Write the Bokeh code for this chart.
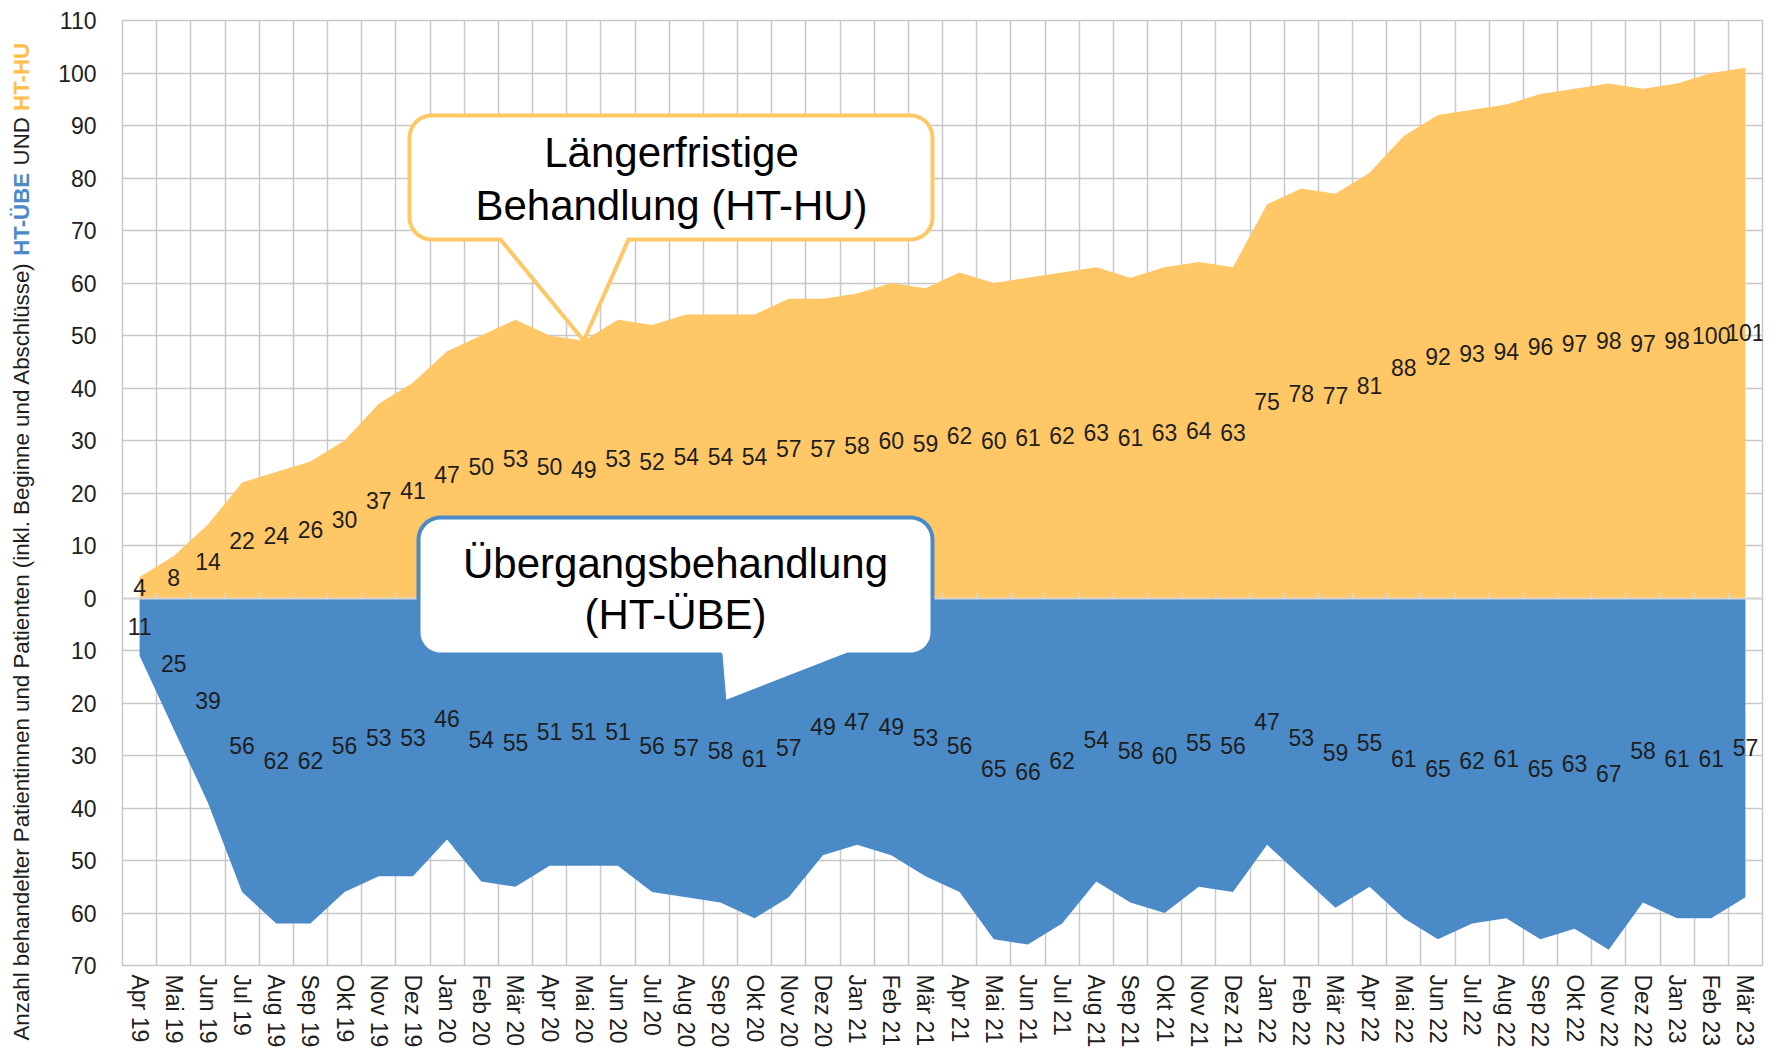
import numpy as np
from bokeh.plotting import figure
from bokeh.layouts import row
from bokeh.models import FixedTicker, Label, Range1d
from bokeh.core.properties import value
from bokeh.embed import file_html
from bokeh.resources import INLINE

# ---------------- data ----------------
months = ["Apr 19", "Mai 19", "Jun 19", "Jul 19", "Aug 19", "Sep 19", "Okt 19", "Nov 19", "Dez 19",
          "Jan 20", "Feb 20", "Mär 20", "Apr 20", "Mai 20", "Jun 20", "Jul 20", "Aug 20", "Sep 20",
          "Okt 20", "Nov 20", "Dez 20",
          "Jan 21", "Feb 21", "Mär 21", "Apr 21", "Mai 21", "Jun 21", "Jul 21", "Aug 21", "Sep 21",
          "Okt 21", "Nov 21", "Dez 21",
          "Jan 22", "Feb 22", "Mär 22", "Apr 22", "Mai 22", "Jun 22", "Jul 22", "Aug 22", "Sep 22",
          "Okt 22", "Nov 22", "Dez 22",
          "Jan 23", "Feb 23", "Mär 23"]

ht_hu = [4, 8, 14, 22, 24, 26, 30, 37, 41,
         47, 50, 53, 50, 49, 53, 52, 54, 54, 54, 57, 57,
         58, 60, 59, 62, 60, 61, 62, 63, 61, 63, 64, 63,
         75, 78, 77, 81, 88, 92, 93, 94, 96, 97, 98, 97,
         98, 100, 101]

ht_ube = [11, 25, 39, 56, 62, 62, 56, 53, 53,
          46, 54, 55, 51, 51, 51, 56, 57, 58, 61, 57, 49,
          47, 49, 53, 56, 65, 66, 62, 54, 58, 60, 55, 56,
          47, 53, 59, 55, 61, 65, 62, 61, 65, 63, 67, 58,
          61, 61, 57]

y_ticks = list(range(-70, 111, 10))

callout_hu = ["Längerfristige", "Behandlung (HT-HU)"]
callout_ube = ["Übergangsbehandlung", "(HT-ÜBE)"]
ylabel_parts = ["Anzahl behandelter Patientinnen und Patienten (inkl. Beginne und Abschlüsse)",
                "HT-ÜBE", "UND", "HT-HU"]

# ---------------- style ----------------
ORANGE = "#FFC766"
BLUE = "#4A8AC7"
GRID = "#C8C8C8"
TXT = "#1E1E1E"
FONT = "Liberation Sans"

H = 1056
TW = 40                      # width of the y-title strip
W = 1740                     # main figure width
ML, MR, MT, MB = 82, 18, 20, 91
FL, FT = TW + ML, MT         # frame left/top on the page
FW, FH = W - ML - MR, H - MT - MB

n = len(months)
x = np.arange(n)
YMIN, YMAX = -70, 110
cw = FW / n
ch = FH / (YMAX - YMIN)


def px2x(px):
    return (px - FL) / cw - 0.5


def px2y(py):
    return YMAX - (py - FT) / ch


p = figure(width=W, height=H, x_range=Range1d(-0.5, n - 0.5), y_range=Range1d(YMIN, YMAX),
           output_backend="svg", toolbar_location=None,
           min_border_left=ML, min_border_right=MR, min_border_top=MT, min_border_bottom=MB)
p.frame_align = False
p.background_fill_color = "white"
p.border_fill_color = "white"
p.outline_line_color = GRID
p.outline_line_width = 1.5

# grid
p.xgrid.ticker = FixedTicker(ticks=list(x[:-1] + 0.5))
p.xgrid.grid_line_color = GRID
p.xgrid.grid_line_width = 1.5
p.ygrid.ticker = FixedTicker(ticks=y_ticks)
p.ygrid.grid_line_color = GRID
p.ygrid.grid_line_width = 1.5

# axes
p.xaxis.ticker = FixedTicker(ticks=list(x))
p.xaxis.major_label_overrides = {int(i): m for i, m in zip(x, months)}
p.xaxis.major_label_orientation = "vertical"
p.xaxis.major_label_text_font = FONT
p.xaxis.major_label_text_font_size = "23px"
p.xaxis.major_label_text_color = TXT
p.xaxis.major_label_standoff = 9
p.xaxis.major_tick_line_color = None
p.xaxis.minor_tick_line_color = None
p.xaxis.major_tick_out = 0
p.xaxis.major_tick_in = 0
p.xaxis.axis_line_color = GRID

p.yaxis.ticker = FixedTicker(ticks=y_ticks)
p.yaxis.major_label_overrides = {t: str(abs(t)) for t in y_ticks}
p.yaxis.major_label_text_font = FONT
p.yaxis.major_label_text_font_size = "23px"
p.yaxis.major_label_text_color = TXT
p.yaxis.major_label_standoff = 20
p.yaxis.major_tick_line_color = None
p.yaxis.minor_tick_line_color = None
p.yaxis.axis_line_color = GRID

# areas
hu = np.array(ht_hu, dtype=float)
ube = np.array(ht_ube, dtype=float)
p.varea(x=x, y1=0, y2=hu, fill_color=ORANGE)
p.varea(x=x, y1=-ube, y2=0, fill_color=BLUE)

# zero line with small ticks
p.hspan(y=[0], line_color="#D6D6D6", line_width=2)
bounds = x[:-1] + 0.5
p.segment(x0=bounds, y0=0, x1=bounds, y1=5 / ch, line_color="#D6D6D6", line_width=1.5)

# value labels
p.text(x=x, y=hu / 2, text=[str(v) for v in ht_hu], text_font=value(FONT), text_font_size="23px",
       text_align="center", text_baseline="middle", text_color=TXT)
p.text(x=x, y=-ube / 2, text=[str(v) for v in ht_ube], text_font=value(FONT), text_font_size="23px",
       text_align="center", text_baseline="middle", text_color=TXT)


# callouts
def callout(x0, y0, x1, y1, r, bl, br, tip):
    pts = []

    def arc(cx, cy, a0, a1):
        for a in np.linspace(np.radians(a0), np.radians(a1), 10):
            pts.append((cx + r * np.cos(a), cy + r * np.sin(a)))

    arc(x1 - r, y0 + r, -90, 0)
    arc(x1 - r, y1 - r, 0, 90)
    pts.append((br, y1))
    pts.append(tip)
    pts.append((bl, y1))
    arc(x0 + r, y1 - r, 90, 180)
    arc(x0 + r, y0 + r, 180, 270)
    xs = [px2x(a) for a, b in pts]
    ys = [px2y(b) for a, b in pts]
    return xs, ys


tip_hu_px = (FL + (13 + 0.5) * cw, FT + (YMAX - ht_hu[13]) * ch)
xs, ys = callout(409, 115, 932, 239, 22, 500, 628, tip_hu_px)
p.patch(xs, ys, fill_color="white", line_color=ORANGE, line_width=4, line_join="round")
xs, ys = callout(418, 517, 932, 654, 22, 720, 847, (724, 702))
p.patch(xs, ys, fill_color="white", line_color=BLUE, line_width=4, line_join="round")

for txt, cx, cy in [(callout_hu[0], 671, 152), (callout_hu[1], 671, 205),
                    (callout_ube[0], 675, 563), (callout_ube[1], 675, 614)]:
    p.add_layout(Label(x=px2x(cx), y=px2y(cy), text=txt, text_font=FONT, text_font_size="42px",
                       text_align="center", text_baseline="middle", text_color="black"))

# ---------------- y-axis title strip (coloured pieces) ----------------
t = figure(width=TW, height=H, x_range=Range1d(0, TW), y_range=Range1d(0, H),
           output_backend="svg", toolbar_location=None,
           min_border_left=0, min_border_right=0, min_border_top=0, min_border_bottom=0)
t.frame_align = False
t.axis.visible = False
t.grid.visible = False
t.outline_line_color = None
t.background_fill_color = "white"
t.border_fill_color = "white"

AR = {" ": 278, "(": 333, ")": 333, ".": 278, "-": 333, "A": 667, "B": 667, "D": 722, "E": 667,
      "H": 722, "N": 722, "P": 667, "T": 611, "U": 722, "Ü": 722, "a": 556, "b": 556, "c": 500,
      "d": 556, "e": 556, "g": 556, "h": 556, "i": 222, "k": 500, "l": 222, "n": 556, "r": 333,
      "s": 500, "t": 278, "u": 556, "ü": 556, "z": 500}
ARB = {"H": 722, "T": 611, "-": 333, "Ü": 722, "B": 722, "E": 667, "U": 722}
YS = 22.3


def tw(s, table):
    return sum(table[c] for c in s) / 1000 * YS


styles = [(TXT, "normal", AR), (BLUE, "bold", ARB), (TXT, "normal", AR), ("#FFBF4A", "bold", ARB)]
pos = 1040.0
for txt, (col, fs, tab) in zip(ylabel_parts, styles):
    t.text(x=[21], y=[H - pos], text=[txt], angle=np.pi / 2, text_align="left",
           text_baseline="middle", text_font=value(FONT), text_font_size=f"{YS}px",
           text_font_style=fs, text_color=col)
    pos -= tw(txt, tab) + 0.278 * YS

layout = row(t, p, spacing=0)
open("out.html", "w").write(file_html(layout, INLINE))
